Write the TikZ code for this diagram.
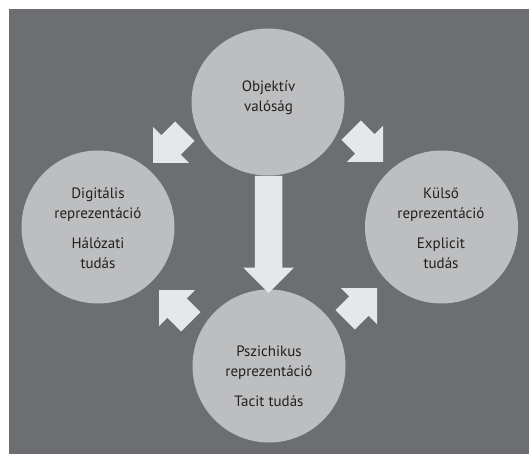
\documentclass[tikz,border=0pt]{standalone}
\usepackage{fontspec}
\setmainfont{PT Sans}
\usetikzlibrary{shapes.geometric}
\definecolor{bggray}{HTML}{6D6E71}
\definecolor{circfill}{HTML}{BCBEC0}
\definecolor{arrfill}{HTML}{E6E7E8}
\definecolor{txt}{HTML}{231F20}
\tikzset{
  ball/.style={circle, fill=circfill, minimum size=153pt, inner sep=0pt},
  topball/.style={ellipse, fill=circfill, minimum width=153pt, minimum height=147pt, inner sep=0pt},
  lbl/.style={align=center, text=txt, font=\fontsize{15}{20}\selectfont, inner sep=0pt},
  blockarrow/.pic={\fill[arrfill] (0,0) -- (-25.5,25.5) -- (-25.5,13.75) -- (-#1,13.75) -- (-#1,-13.75) -- (-25.5,-13.75) -- (-25.5,-25.5) -- cycle;}
}
\begin{document}
\begin{tikzpicture}[x=1pt,y=1pt]
\useasboundingbox (0,0) rectangle (529,-454);
\fill[white] (0,0) rectangle (529,-454);
\fill[bggray] (9,-9) rectangle (529,-454);
% circles
\node[topball] (top) at (268,-102) {};
\node[ball] (left) at (98,-227) {};
\node[ball] (right) at (441.5,-227) {};
\node[ball] (bottom) at (269,-366) {};
% texts
\node[lbl] (toptext) at (268.5,-98) {Objektív\\valóság};
\node[lbl] (lefttext) at (98,-228) {Digitális\\reprezentáció\\[10pt]Hálózati\\tudás};
\node[lbl] (righttext) at (441,-228) {Külső\\reprezentáció\\[10pt]Explicit\\tudás};
\node[lbl] (bottomtext) at (269,-376) {Pszichikus\\reprezentáció\\[10pt]Tacit tudás};
% arrows
\pic[rotate=-135] at (153,-163) {blockarrow=45};
\pic[rotate=-45] at (383,-162) {blockarrow=45};
\pic[rotate=135] at (159,-290) {blockarrow=45};
\pic[rotate=45] at (377,-288) {blockarrow=45};
\pic[rotate=-90] at (268.5,-293) {blockarrow=117};
\end{tikzpicture}
\end{document}
